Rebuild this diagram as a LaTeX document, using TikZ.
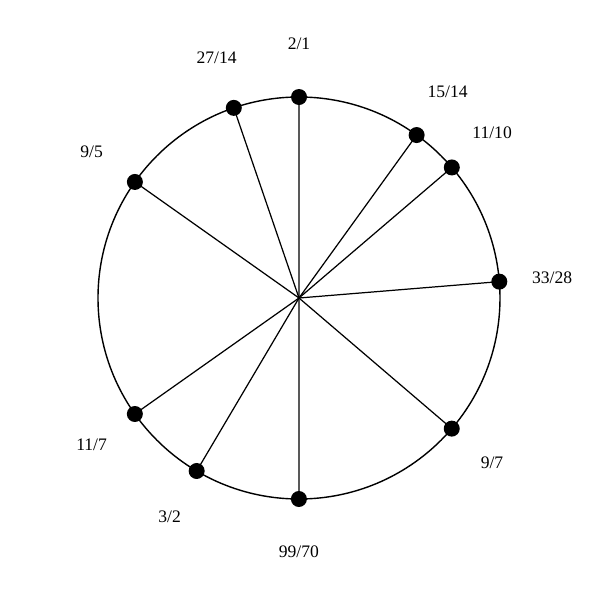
\documentclass[tikz,border=0pt]{standalone}
\usepackage{fontspec}
\setmainfont{Liberation Serif}
\usetikzlibrary{positioning}
\begin{document}
\begin{tikzpicture}[
    dot/.style={circle,fill=black,inner sep=0pt,minimum size=0.32cm},
    ratio/.style={font=\fontsize{10}{12}\selectfont}]
    \useasboundingbox (-5.98,-6.04) rectangle (6.02,5.96);
    % pitch circle, one turn per octave
    \coordinate (o) at (0,0);
    \draw[line width=0.8pt] (o) circle (4.02);
    \foreach \num/\den [count=\k] in {2/1,27/14,15/14,11/10,33/28,9/7,99/70,3/2,11/7,9/5} {
        \pgfmathsetmacro{\ang}{90-360*ln(\num/\den)/ln(2)}
        \node[dot] (p\k) at (\ang:4.02) {};
        \draw[line width=0.7pt] (o) -- (p\k.center);
        \node[ratio] (l\k) at (\ang:5.08) {\num/\den};
    }
\end{tikzpicture}
\end{document}
